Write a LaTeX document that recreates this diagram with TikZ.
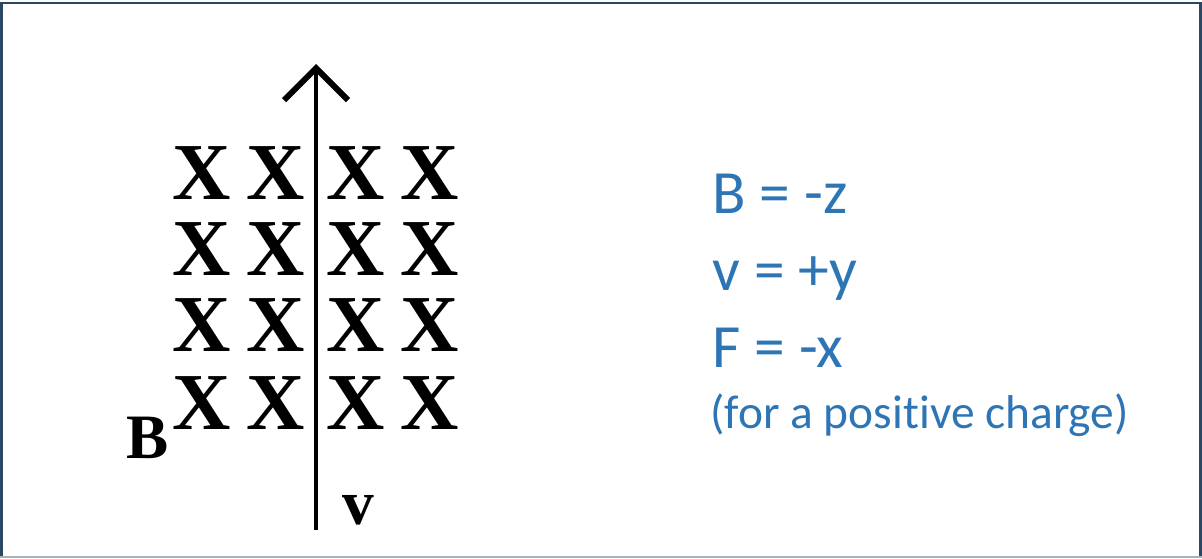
\documentclass[tikz,border=0pt]{standalone}
\usepackage{fontspec}
\setmainfont{Liberation Serif}
\newfontfamily\calibri[Ligatures={NoCommon,NoContextual}]{Carlito}
\usepackage{tikz}
\usetikzlibrary{arrows.meta,positioning}
\definecolor{figFrame}{HTML}{2B4763}
\definecolor{figGray}{HTML}{A8B0B8}
\definecolor{figBlue}{HTML}{2E75B6}

\begin{document}
\begin{tikzpicture}[
  x=0.02cm, y=-0.02cm,
  cross/.style={inner sep=0pt, font=\fontsize{46}{50}\selectfont\bfseries},
  letter/.style={inner sep=0pt, font=\fontsize{36}{40}\selectfont\bfseries},
  rule/.style={font=\calibri\fontsize{35}{40}\selectfont, text=figBlue,
             anchor=base west, inner sep=0pt},
  note/.style={font=\calibri\fontsize{27}{32}\selectfont, text=figBlue,
             anchor=base west, inner sep=0pt},
  velo/.style={line width=2.1pt,
             -{Straight Barb[length=6.4mm, width=12.8mm, line width=3.4pt]}},
]
\useasboundingbox (0,0) rectangle (1202,558);

% Frame
\draw[figFrame, line width=1.7pt] (1.5,558) -- (1.5,3) -- (1200.5,3) -- (1200.5,558);
\draw[figGray, line width=0.6pt] (0,557) -- (1202,557);

% Field into the page
\foreach \row/\yy in {1/173, 2/249, 3/325, 4/403}
  \foreach \col/\xx in {1/202, 2/276, 3/356, 4/430}
    \node[cross] (x\row\col) at (\xx,\yy) {X};

% Velocity
\coordinate (vtail) at (316,530);
\coordinate (vhead) at (316,64);
\draw[velo] (vtail) -- (vhead);

\node[letter] (blab) at (148,438) {B};
\node[letter] (vlab) at (358,510) {v};

% Directions
\node[rule] (bdir) at (712,213) {B = -z};
\node[rule] (vdir) at (712,290) {v = +y};
\node[rule] (fdir) at (712,367) {F = -x};
\node[note] (sign) at (710,428) {(for a positive charge)};

\end{tikzpicture}
\end{document}
